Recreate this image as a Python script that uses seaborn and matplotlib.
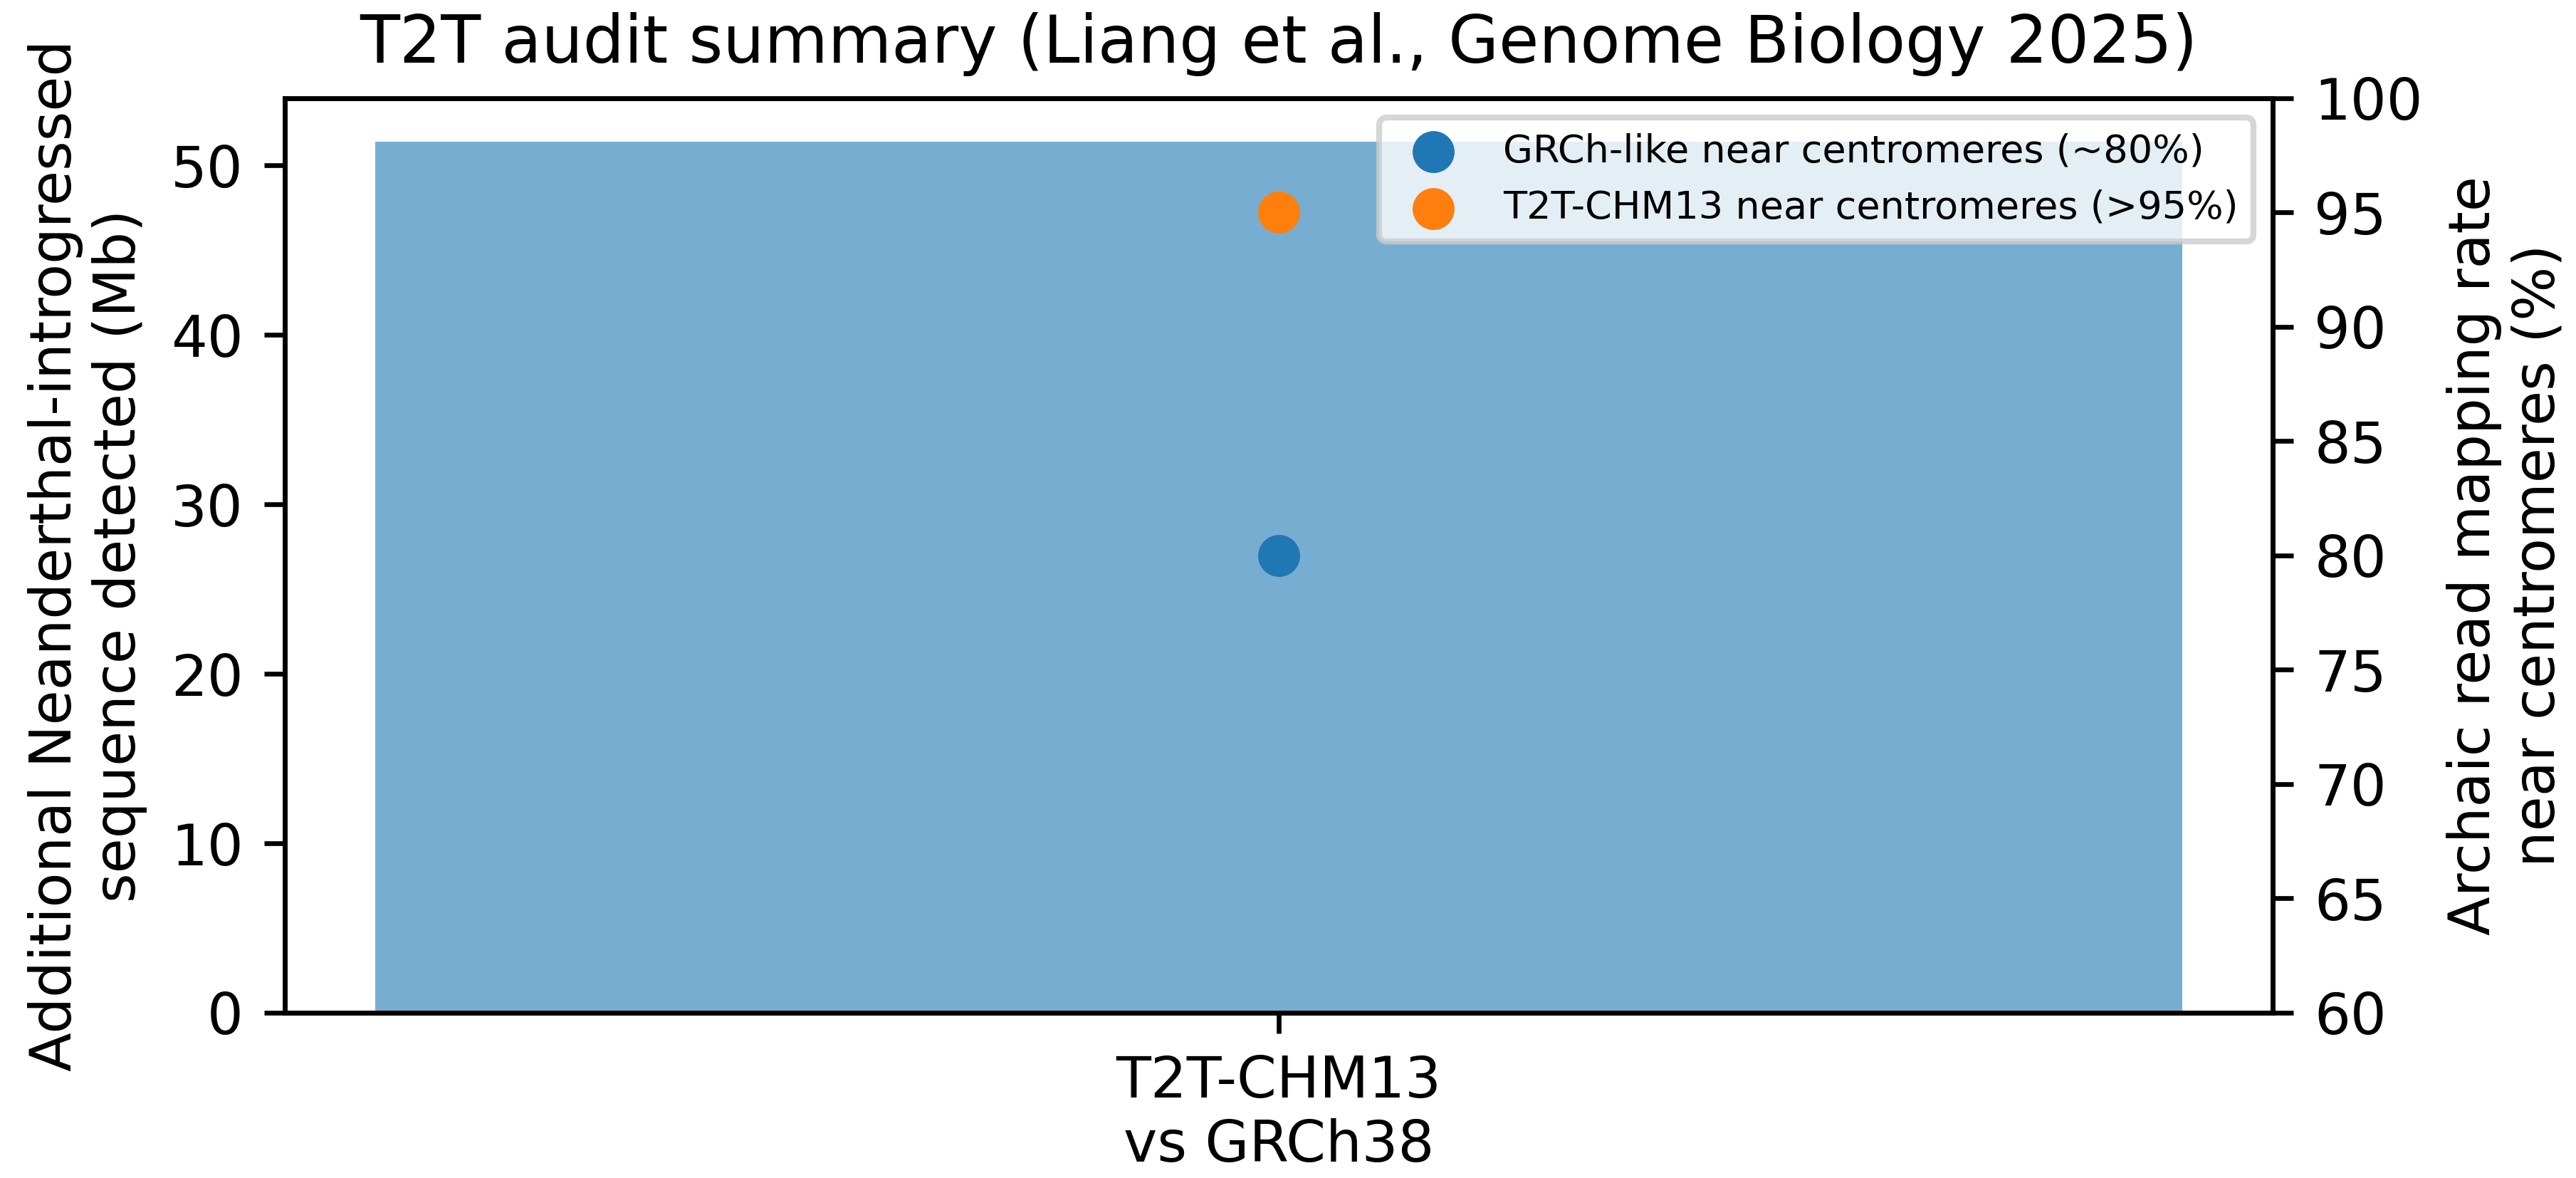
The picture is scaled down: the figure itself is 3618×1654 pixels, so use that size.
import matplotlib
matplotlib.use('Agg')
import matplotlib.pyplot as plt
import seaborn as sns

# data
comparison = ['T2T-CHM13\nvs GRCh38']
extra_mb = [51.4]

mapping_labels = [
    'GRCh-like near centromeres (~80%)',
    'T2T-CHM13 near centromeres (>95%)'
]
mapping_rates = [80, 95]
mapping_colors = ['#1f77b4', '#ff7f0e']

plt.rcParams['font.family'] = ['DejaVu Sans']

fig, ax = plt.subplots(figsize=(6.03, 2.7567), dpi=600)
fig.subplots_adjust(left=0.1106, right=0.8823, bottom=0.1403, top=0.9166)

sns.barplot(
    x=comparison,
    y=extra_mb,
    color='#1f77b4',
    alpha=0.6,
    saturation=1,
    width=0.8,
    linewidth=0,
    ax=ax
)
ax.set_xlim(-0.44, 0.44)
ax.set_ylabel(
    'Additional Neanderthal-introgressed\nsequence detected (Mb)',
    fontsize=9.6
)
ax.tick_params(labelsize=9.6)

ax2 = ax.twinx()
for label, rate, color in zip(mapping_labels, mapping_rates, mapping_colors):
    sns.scatterplot(
        x=[0],
        y=[rate],
        color=color,
        s=50,
        linewidth=0,
        label=label,
        ax=ax2
    )
ax2.set_ylim(60, 100)
ax2.set_ylabel(
    'Archaic read mapping rate\nnear centromeres (%)',
    fontsize=9.6
)
ax2.tick_params(labelsize=9.6)
ax2.legend(loc='upper right', fontsize=6.5)

ax.set_title(
    'T2T audit summary (Liang et al., Genome Biology 2025)',
    fontsize=11.0
)

fig.savefig('out.png', dpi=600)
plt.close(fig)
